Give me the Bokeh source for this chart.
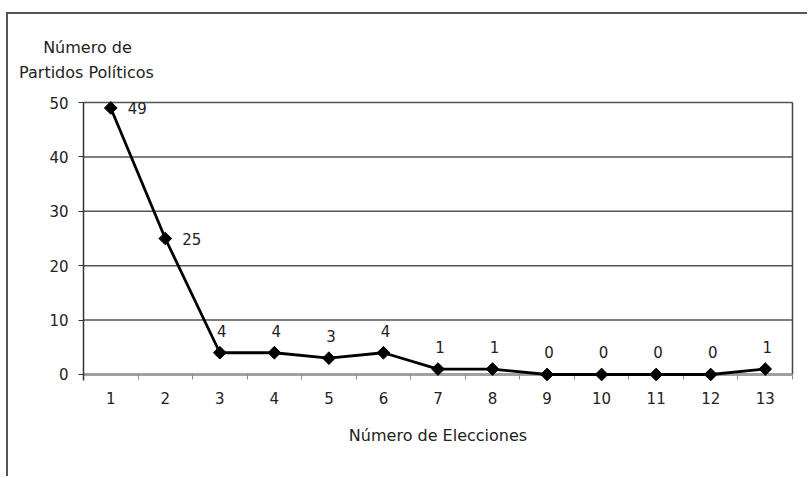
import numpy as np
from bokeh.plotting import figure
from bokeh.models import FixedTicker, Range1d, ColumnDataSource
from bokeh.embed import file_html
from bokeh.resources import INLINE
from bokeh.core.properties import value

# Number of political parties by number of elections contested
elecciones = [1, 2, 3, 4, 5, 6, 7, 8, 9, 10, 11, 12, 13]
partidos = [49, 25, 4, 4, 3, 4, 1, 1, 0, 0, 0, 0, 1]
y_ticks = [0, 10, 20, 30, 40, 50]

FONT = "DejaVu Sans"
TXT = "#222222"
FS = "15px"
FS_TITLE = "16px"

x_lo, x_hi = elecciones[0] - 0.5, elecciones[-1] + 0.5
y_lo, y_hi = y_ticks[0], y_ticks[-1]

# the frame fills the whole canvas; axes are pinned to the plotting area
p = figure(width=801, height=464, output_backend="svg", toolbar_location=None,
           x_range=Range1d(-0.875, 13.812), y_range=Range1d(-19.12, 66.18),
           min_border=0)
p.margin = (12, 0, 0, 6)
p.styles = {"border-top": "2px solid #555", "border-left": "2px solid #555"}
p.background_fill_color = "white"
p.border_fill_color = "white"
p.outline_line_color = None
p.grid.visible = False

# horizontal gridlines and right edge of the plotting area
gy = y_ticks[1:]
p.segment(x0=[x_lo] * len(gy), x1=[x_hi] * len(gy), y0=gy, y1=gy,
          line_color="#555555", line_width=1.5)
p.segment(x0=[x_hi], x1=[x_hi], y0=[y_lo], y1=[y_hi],
          line_color="#444444", line_width=1.5)

# x axis on y = 0: labels at categories, tick marks between them
xa = p.xaxis[0]
xa.fixed_location = y_lo
xa.bounds = (x_lo, x_hi)
xa.ticker = FixedTicker(ticks=elecciones,
                        minor_ticks=[e - 0.5 for e in elecciones] + [x_hi])
xa.major_tick_line_color = None
xa.major_tick_out = 5
xa.major_tick_in = 0
xa.minor_tick_line_color = "#888888"
xa.minor_tick_out = 5
xa.minor_tick_in = 0
xa.axis_line_color = "#a0a0a0"
xa.axis_line_width = 3
xa.major_label_text_font = FONT
xa.major_label_text_font_size = FS
xa.major_label_text_color = TXT
xa.major_label_standoff = 13
xa.axis_label = "Número de Elecciones"
xa.axis_label_text_font = FONT
xa.axis_label_text_font_size = FS_TITLE
xa.axis_label_text_font_style = "normal"
xa.axis_label_text_color = TXT
xa.axis_label_standoff = 18

# y axis on the left edge of the plotting area
ya = p.yaxis[0]
ya.fixed_location = x_lo
ya.bounds = (-1.1, y_hi)
ya.ticker = FixedTicker(ticks=y_ticks)
ya.minor_tick_line_color = None
ya.major_tick_out = 5
ya.major_tick_in = 0
ya.major_tick_line_color = "#333333"
ya.axis_line_color = "#333333"
ya.axis_line_width = 1.5
ya.major_label_text_font = FONT
ya.major_label_text_font_size = FS
ya.major_label_text_color = TXT
ya.major_label_standoff = 10

# the series, drawn above the axes
src = ColumnDataSource(dict(x=elecciones, y=partidos))
p.line("x", "y", source=src, line_color="black", line_width=2.8, level="overlay")
p.scatter("x", "y", source=src, marker="square", angle=np.pi / 4, size=9,
          fill_color="black", line_color="black", level="overlay")

# value labels: first two to the right, the rest above
right = ColumnDataSource(dict(x=elecciones[:2], y=partidos[:2],
                              t=[str(v) for v in partidos[:2]]))
above = ColumnDataSource(dict(x=elecciones[2:], y=partidos[2:],
                              t=[str(v) for v in partidos[2:]]))
p.text("x", "y", text="t", source=right, x_offset=17, y_offset=0,
       text_align="left", text_baseline="middle", text_font=value(FONT),
       text_font_size=FS, text_color=TXT)
p.text("x", "y", text="t", source=above, x_offset=2, y_offset=-22,
       text_align="center", text_baseline="middle", text_font=value(FONT),
       text_font_size=FS, text_color=TXT)

# vertical axis title, written horizontally above the axis
p.text(x=[0.573, 0.555], y=[60.1, 55.5], text=["Número de", "Partidos Políticos"],
       text_align="center", text_baseline="middle", text_font=value(FONT),
       text_font_size=FS_TITLE, text_color=TXT)

open("out.html", "w").write(file_html(p, INLINE))
